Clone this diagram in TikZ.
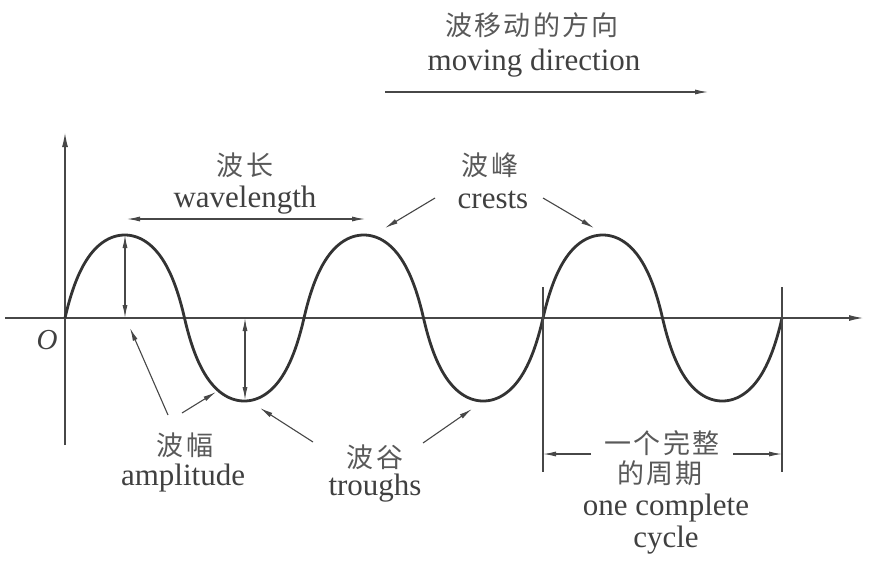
\documentclass[tikz,border=0pt]{standalone}
\usepackage{fontspec}
\setmainfont{Liberation Serif}
\newfontfamily\cjk[LetterSpace=8]{Noto Sans CJK SC}
\usetikzlibrary{arrows.meta}
\begin{document}
\begin{tikzpicture}[x=1pt,y=-1pt,
 axisline/.style={draw=black!72, line width=1.1pt, -{Latex[length=14pt,width=6pt]}},
 plainline/.style={draw=black!72, line width=1.1pt},
 wave/.style={draw=black!80, line width=2.8pt},
 arr/.style={draw=black!72, line width=1.1pt, -{Latex[length=13pt,width=5pt]}},
 dbl/.style={draw=black!72, line width=1.1pt, {Latex[length=13pt,width=5pt]}-{Latex[length=13pt,width=5pt]}},
 en/.style={text=black!75, font=\fontsize{31}{34}\selectfont, inner sep=0pt, anchor=base},
 zh/.style={text=black!65, font=\cjk\fontsize{27}{30}\selectfont, inner sep=0pt, anchor=base},
]
\useasboundingbox (0,0) rectangle (869,565);

% axes
\coordinate (ybot) at (65,445);
\coordinate (ytop) at (65,133);
\coordinate (xl) at (5,318);
\coordinate (xr) at (863,318);
\draw[axisline] (ybot) -- (ytop);
\draw[axisline] (xl) -- (xr);
\node[font=\itshape\fontsize{29}{32}\selectfont, text=black!75, inner sep=0pt] (O) at (47,340) {O};

% wave
\draw[wave] plot[domain=65:782, samples=400, smooth]
  (\x, {318-83*2*sin((\x-65)/239*360)/(1+abs(sin((\x-65)/239*360)))});

% amplitude arrows
\coordinate (c1) at (125,235);
\coordinate (c1b) at (125,318);
\coordinate (t1a) at (245,318);
\coordinate (t1) at (245,400);
\draw[dbl] (c1) -- (c1b);
\draw[dbl] (t1a) -- (t1);

% wavelength
\coordinate (wlL) at (127,219);
\coordinate (wlR) at (365,219);
\draw[dbl] (wlL) -- (wlR);
\node[zh] (wlzh) at (245,175) {波长};
\node[en] (wlen) at (245,207) {wavelength};

% crests
\node[zh] (crzh) at (490,175) {波峰};
\node[en] (cren) at (493,208) {crests};
\coordinate (crLs) at (435,198);
\coordinate (crLe) at (385,228);
\coordinate (crRs) at (543,198);
\coordinate (crRe) at (594,228);
\draw[arr] (crLs) -- (crLe);
\draw[arr] (crRs) -- (crRe);

% amplitude labels
\node[zh] (amzh) at (185,455) {波幅};
\node[en] (amen) at (183,485) {amplitude};
\coordinate (amAs) at (168,415);
\coordinate (amAe) at (130,328);
\coordinate (amBs) at (182,413);
\coordinate (amBe) at (216,392);
\draw[arr] (amAs) -- (amAe);
\draw[arr] (amBs) -- (amBe);

% troughs
\node[zh] (trzh) at (375,467) {波谷};
\node[en] (tren) at (375,495) {troughs};
\coordinate (trLs) at (313,442);
\coordinate (trLe) at (260,408);
\coordinate (trRs) at (423,443);
\coordinate (trRe) at (472,409);
\draw[arr] (trLs) -- (trLe);
\draw[arr] (trRs) -- (trRe);

% complete cycle
\coordinate (v1t) at (543,287);
\coordinate (v1b) at (543,472);
\coordinate (v2t) at (782,287);
\coordinate (v2b) at (782,472);
\draw[plainline] (v1t) -- (v1b);
\draw[plainline] (v2t) -- (v2b);
\coordinate (cyLs) at (591,454);
\coordinate (cyLe) at (543,454);
\coordinate (cyRs) at (733,454);
\coordinate (cyRe) at (782,454);
\draw[arr] (cyLs) -- (cyLe);
\draw[arr] (cyRs) -- (cyRe);
\node[zh] (cyzh1) at (662,453) {一个完整};
\node[zh] (cyzh2) at (660,483) {的周期};
\node[en] (cyen1) at (666,515) {one complete};
\node[en] (cyen2) at (666,547) {cycle};

% moving direction
\node[zh] (mdzh) at (532,35) {波移动的方向};
\node[en] (mden) at (534,70) {moving direction};
\coordinate (mdL) at (385,92);
\coordinate (mdR) at (708,92);
\draw[arr] (mdL) -- (mdR);
\end{tikzpicture}
\end{document}
